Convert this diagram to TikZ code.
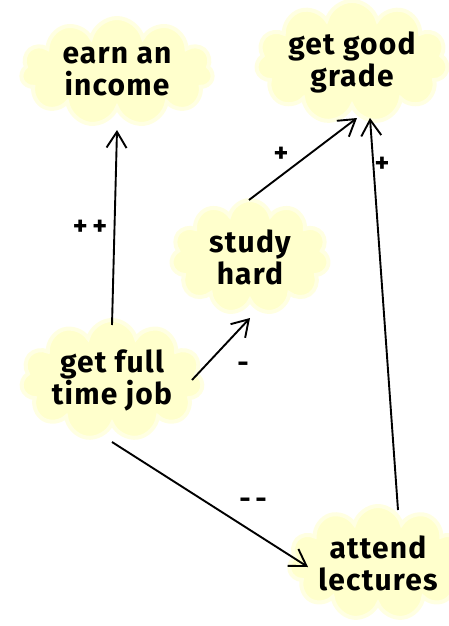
\documentclass[tikz,border=0pt]{standalone}
\usepackage{fontspec}
\setmainfont{Fira Sans}[LetterSpace=4]
\usetikzlibrary{shapes.symbols,arrows.meta,calc}
\definecolor{cloudfill}{RGB}{255,255,204}
\definecolor{cloudhalo}{RGB}{255,255,226}
\tikzset{
  concept/.style={cloud, cloud puffs=11, cloud ignores aspect, fill=cloudfill, draw=cloudhalo, line width=4pt,
    inner sep=0pt, align=center, font=\fontsize{30}{32}\selectfont\bfseries},
  link/.style={line width=1.9pt, -{Straight Barb[length=16pt,width=20pt,line width=1.9pt]}},
  sign/.style={font=\fontsize{28}{30}\selectfont\bfseries, inner sep=0pt}
}
\begin{document}
\begin{tikzpicture}[x=1pt,y=-1pt]
\useasboundingbox (0,0) rectangle (449,626);
\node[concept, minimum width=192pt, minimum height=108pt] (income) at (117,72) {earn an\\income};
\node[concept, minimum width=192pt, minimum height=104pt] (grade) at (352,62) {get good\\grade};
\node[concept, minimum width=158pt, minimum height=114pt] (study) at (250,257) {study\\hard};
\node[concept, minimum width=164pt, minimum height=118pt] (job) at (112,380) {get full\\time job};
\node[concept, minimum width=146pt, minimum height=114pt] (lectures) at (378,563) {attend\\lectures};

\draw[link] ($(job)+(0,-55)$) -- ($(income)+(0,58)$);
\draw[link] ($(study)+(-1,-57)$) -- ($(grade)+(5,56)$);
\draw[link] ($(lectures)+(20,-53)$) -- ($(grade)+(18,56)$);
\draw[link] ($(job)+(80,0)$) -- ($(study)+(0,61)$);
\draw[link] ($(job)+(0,62)$) -- ($(lectures)+(-70,4)$);

\node[sign] (s1) at (90,228) {+\,+};
\node[sign] (s2) at (281,155) {+};
\node[sign] (s3) at (382,165) {+};
\node[sign] (s4) at (243,367) {-};
\node[sign] (s5) at (253,503) {-\,-};
\end{tikzpicture}
\end{document}
